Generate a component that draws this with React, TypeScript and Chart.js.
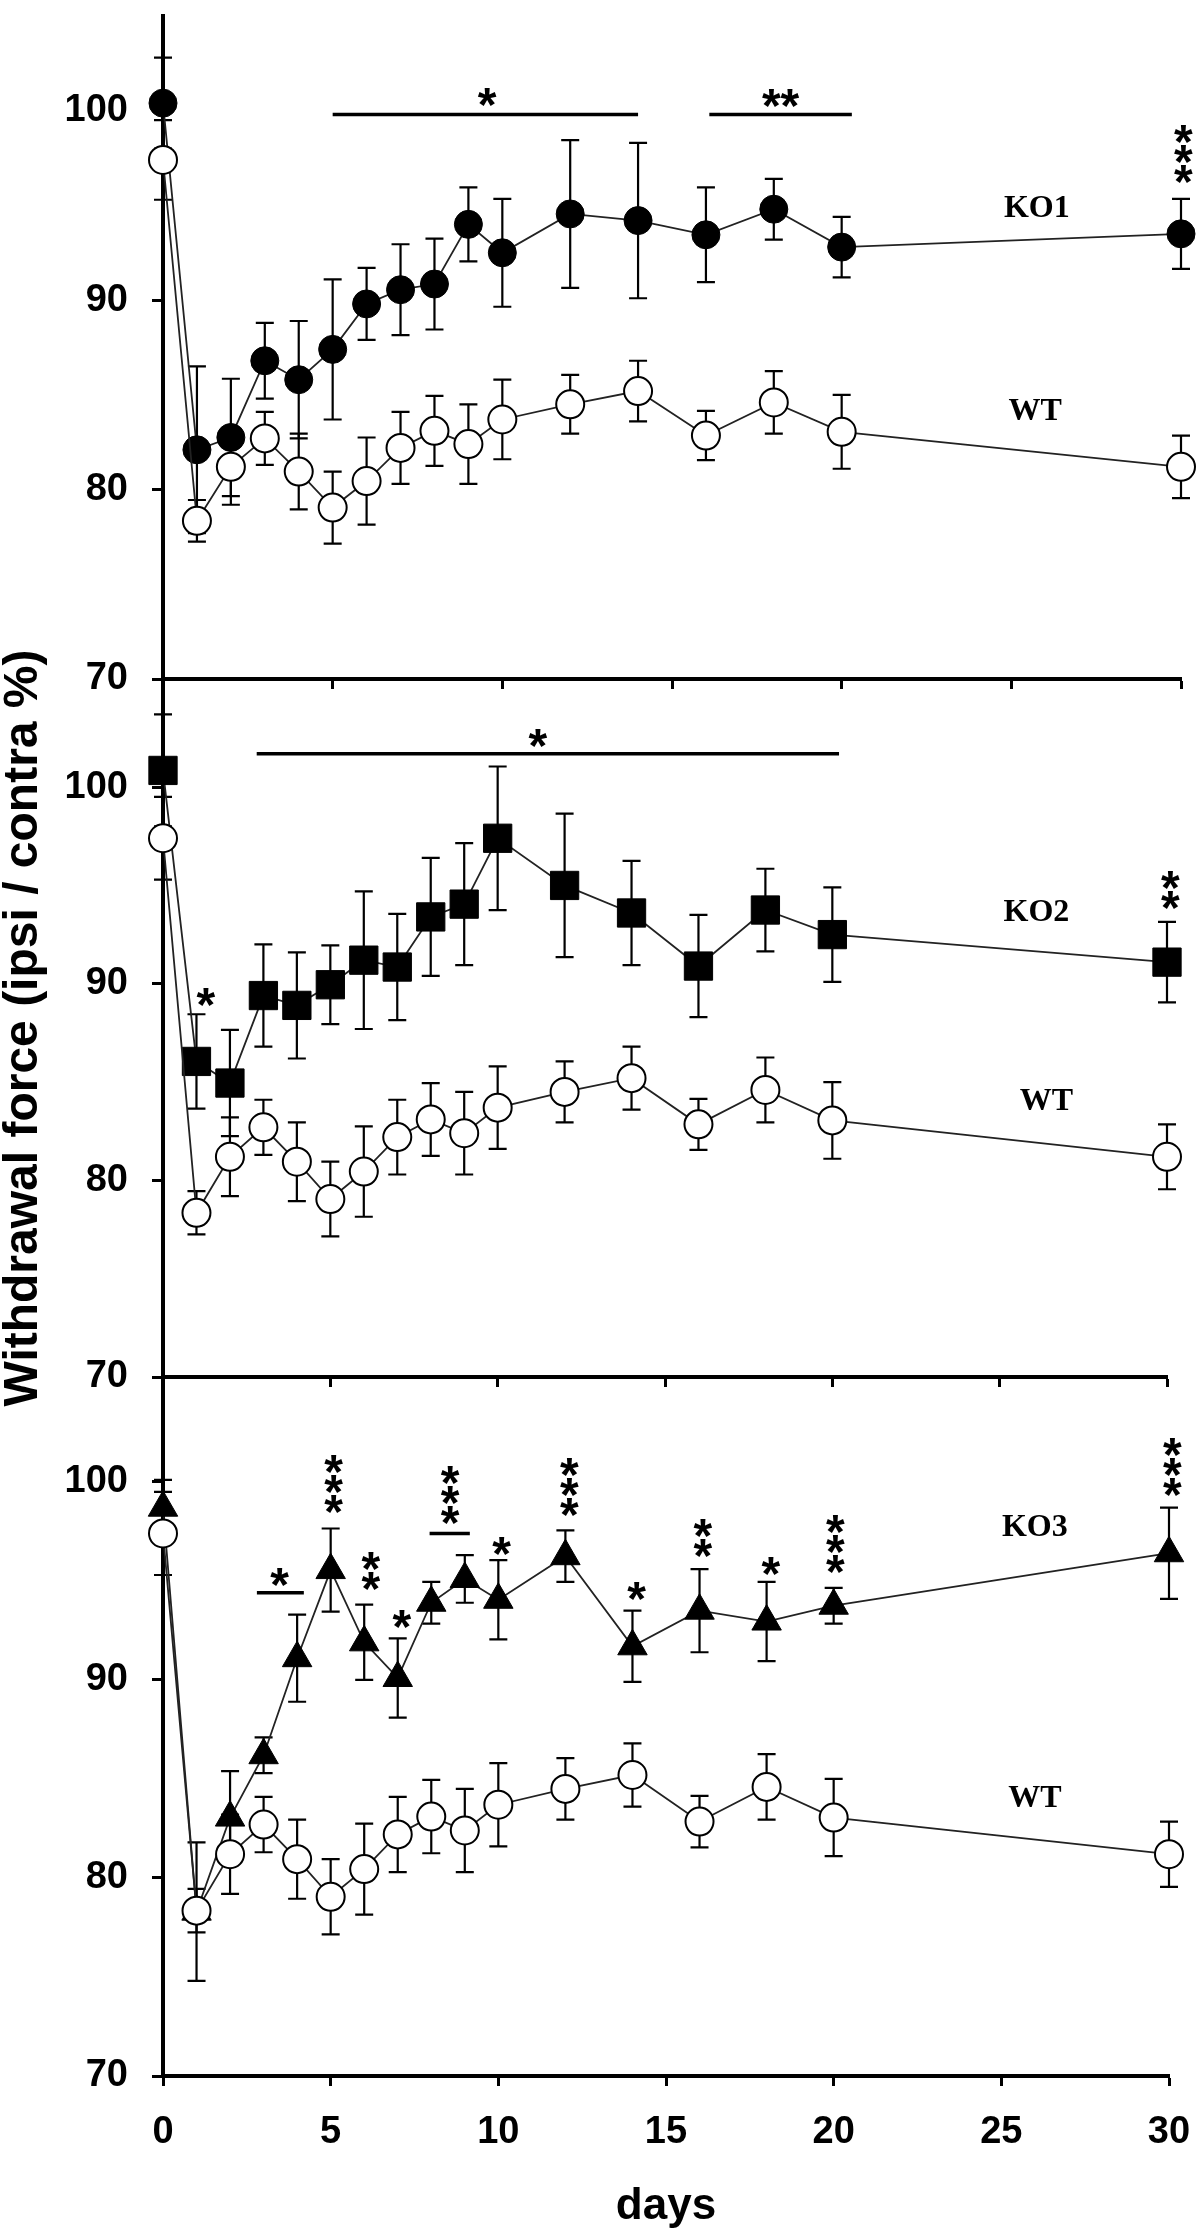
import React, { useEffect, useRef } from 'react';
import { Chart, registerables } from 'chart.js';

Chart.register(...registerables);

// ---------------- data ----------------
const DAYS = [0, 1, 2, 3, 4, 5, 6, 7, 8, 9, 10, 12, 14, 16, 18, 20, 30];

const WT_MEAN = [97.4, 78.35, 81.2, 82.7, 80.95, 79.05, 80.45, 82.2, 83.1, 82.4, 83.7, 84.5, 85.2, 82.85, 84.6, 83.05, 81.2];
const WT_SEM = [2.1, 1.1, 2.0, 1.4, 2.0, 1.9, 2.3, 1.9, 1.85, 2.1, 2.1, 1.55, 1.6, 1.3, 1.65, 1.95, 1.65];

const KO1_MEAN = [100.4, 82.1, 82.75, 86.8, 85.8, 87.4, 89.8, 90.55, 90.85, 94.0, 92.5, 94.55, 94.2, 93.45, 94.8, 92.8, 93.5];
const KO1_SEM = [2.4, 4.4, 3.1, 2.0, 3.1, 3.7, 1.9, 2.4, 2.4, 1.95, 2.85, 3.9, 4.1, 2.5, 1.6, 1.6, 1.85];

const KO2_MEAN = [100.85, 86.05, 84.95, 89.4, 88.9, 89.95, 91.2, 90.85, 93.4, 94.05, 97.4, 95.0, 93.6, 90.9, 93.75, 92.5, 91.1];
const KO2_SEM = [2.85, 2.4, 2.7, 2.6, 2.7, 2.0, 3.5, 2.7, 3.0, 3.1, 3.65, 3.65, 2.65, 2.6, 2.1, 2.4, 2.05];

const KO3_MEAN = [98.7, 78.3, 83.05, 86.2, 91.1, 95.55, 91.9, 90.1, 93.9, 95.1, 94.05, 96.25, 91.7, 93.5, 92.95, 93.75, 96.4];
const KO3_SEM = [1.4, 3.5, 2.35, 0.9, 2.2, 2.1, 1.9, 2.0, 1.05, 1.2, 2.0, 1.3, 1.8, 2.1, 2.0, 0.9, 2.3];

const Y_TICKS = [70, 80, 90, 100];
const X_TICKS = [0, 5, 10, 15, 20, 25, 30];

const Y_TITLE = 'Withdrawal force (ipsi / contra %)';
const X_TITLE = 'days';

// significance bars: [fromDay, toDay, value]
const KO1_BARS = [[5, 14, 99.8], [16.1, 20.3, 99.8]];
const KO2_BARS = [[2.8, 20.2, 101.7]];
const KO3_BARS = [[2.8, 4.2, 94.4], [7.95, 9.15, 97.4]];

// asterisk groups: [day, value, count, direction]
const KO1_STARS = [[9.55, 100.85, 1, 'h'], [18.2, 100.8, 2, 'h'], [30.07, 97.85, 3, 'v']];
const KO2_STARS = [[11.2, 102.6, 1, 'h'], [1.28, 89.45, 1, 'h'], [30.1, 94.9, 2, 'v']];
const KO3_STARS = [
  [3.48, 95.3, 1, 'h'], [5.09, 100.0, 3, 'v'], [6.2, 95.6, 2, 'v'], [7.12, 93.2, 1, 'h'],
  [8.56, 99.45, 3, 'v'], [10.1, 96.9, 1, 'h'], [12.12, 99.87, 3, 'v'], [14.12, 94.6, 1, 'h'],
  [16.1, 97.3, 2, 'v'], [18.13, 95.9, 1, 'h'], [20.05, 97.0, 3, 'v'], [30.1, 100.9, 3, 'v'],
];

// series name labels: [text, day, value]
const KO1_LABELS = [['KO1', 25.75, 94.8], ['WT', 25.7, 84.1]];
const KO2_LABELS = [['KO2', 26.1, 93.6], ['WT', 26.4, 84.0]];
const KO3_LABELS = [['KO3', 26.0, 97.7], ['WT', 26.0, 84.0]];

// ---------------- layout / style ----------------
const W = 1200;
const H = 2233;
const AXIS_LEFT = 163;
const SANS = '"Liberation Sans", Arial, Helvetica, sans-serif';
const SERIF = '"Liberation Serif", "Times New Roman", serif';

const PANELS = [
  { key: 'p1', name: 'KO1', mean: KO1_MEAN, sem: KO1_SEM, style: 'circle', radius: 14, yMax: 105, top: 4, bottom: 679, xEnd: 1181, last: false, yTitle: false, bars: KO1_BARS, stars: KO1_STARS, labels: KO1_LABELS },
  { key: 'p2', name: 'KO2', mean: KO2_MEAN, sem: KO2_SEM, style: 'rect', radius: 20, yMax: 105.5, top: 679, bottom: 1377, xEnd: 1167, last: false, yTitle: true, bars: KO2_BARS, stars: KO2_STARS, labels: KO2_LABELS },
  { key: 'p3', name: 'KO3', mean: KO3_MEAN, sem: KO3_SEM, style: 'triangle', radius: 17, yMax: 105.3, top: 1377, bottom: 2076, xEnd: 1169, last: true, yTitle: false, bars: KO3_BARS, stars: KO3_STARS, labels: KO3_LABELS },
];

function makeConfig(p: any) {
  const xAxisH = p.last ? H - p.bottom : 20;
  const errorBars = {
    id: 'errorBars_' + p.key,
    beforeDatasetsDraw(chart: any) {
      const { ctx } = chart;
      const xs = chart.scales.x;
      const ys = chart.scales.y;
      const sets = [[WT_MEAN, WT_SEM], [p.mean, p.sem]];
      ctx.save();
      ctx.strokeStyle = '#000';
      ctx.lineWidth = 2.2;
      ctx.lineCap = 'butt';
      sets.forEach(([m, s]: any) => {
        DAYS.forEach((d, j) => {
          const px = xs.getPixelForValue(d);
          const yt = ys.getPixelForValue(m[j] + s[j]);
          const yb = ys.getPixelForValue(m[j] - s[j]);
          ctx.beginPath();
          ctx.moveTo(px, yt);
          ctx.lineTo(px, yb);
          ctx.moveTo(px - 9, yt);
          ctx.lineTo(px + 9, yt);
          ctx.moveTo(px - 9, yb);
          ctx.lineTo(px + 9, yb);
          ctx.stroke();
        });
      });
      ctx.restore();
    },
  };
  const annotations = {
    id: 'annot_' + p.key,
    afterDatasetsDraw(chart: any) {
      const { ctx } = chart;
      const xs = chart.scales.x;
      const ys = chart.scales.y;
      ctx.save();
      ctx.strokeStyle = '#000';
      ctx.fillStyle = '#000';
      ctx.lineWidth = 3.5;
      p.bars.forEach(([a, b, v]: any) => {
        const y = ys.getPixelForValue(v);
        ctx.beginPath();
        ctx.moveTo(xs.getPixelForValue(a), y);
        ctx.lineTo(xs.getPixelForValue(b), y);
        ctx.stroke();
      });
      const sz = 48;
      ctx.font = `bold ${sz}px ${SANS}`;
      ctx.textAlign = 'center';
      ctx.textBaseline = 'alphabetic';
      const off = 0.55 * sz;
      p.stars.forEach(([d, v, n, dir]: any) => {
        const cx = xs.getPixelForValue(d);
        const cy = ys.getPixelForValue(v);
        if (dir === 'h') {
          ctx.fillText('*'.repeat(n), cx, cy + off);
        } else {
          const gap = 20;
          for (let k = 0; k < n; k++) {
            const yy = cy + (k - (n - 1) / 2) * gap;
            ctx.fillText('*', cx, yy + off);
          }
        }
      });
      ctx.font = `bold 32px ${SERIF}`;
      ctx.textBaseline = 'middle';
      p.labels.forEach(([t, d, v]: any) => {
        ctx.fillText(t, xs.getPixelForValue(d), ys.getPixelForValue(v));
      });
      ctx.restore();
    },
  };

  const toPts = (m: number[]) => DAYS.map((d, i) => ({ x: d, y: m[i] }));

  return {
    type: 'line',
    data: {
      datasets: [
        {
          label: 'WT',
          data: toPts(WT_MEAN),
          borderColor: '#222',
          borderWidth: 1.8,
          pointStyle: 'circle',
          pointRadius: 14,
          pointBackgroundColor: '#fff',
          pointBorderColor: '#000',
          pointBorderWidth: 2,
          clip: false,
          tension: 0,
        },
        {
          label: p.name,
          data: toPts(p.mean),
          borderColor: '#222',
          borderWidth: 1.8,
          pointStyle: p.style,
          pointRadius: p.radius,
          pointBackgroundColor: '#000',
          pointBorderColor: '#000',
          pointBorderWidth: 1,
          clip: false,
          tension: 0,
        },
      ],
    },
    options: {
      responsive: false,
      animation: false,
      events: [],
      layout: {
        padding: { left: 0, right: W - p.xEnd, top: p.top, bottom: H - p.bottom - xAxisH },
      },
      plugins: {
        legend: { display: false },
        tooltip: { enabled: false },
      },
      scales: {
        x: {
          type: 'linear',
          min: 0,
          max: 30,
          afterBuildTicks: (s: any) => {
            s.ticks = X_TICKS.map((v) => ({ value: v }));
          },
          afterFit: (s: any) => {
            s.height = xAxisH;
            s.paddingLeft = 0;
            s.paddingRight = 0;
            s.paddingTop = 0;
            s.paddingBottom = 0;
          },
          border: { display: true, color: '#000', width: 4 },
          grid: { display: true, drawOnChartArea: false, drawTicks: true, tickLength: 10, tickWidth: 3, tickColor: '#000' },
          ticks: {
            display: p.last,
            padding: 24,
            color: '#000',
            maxRotation: 0,
            font: { family: SANS, weight: 'bold', size: 38 },
          },
          title: {
            display: p.last,
            text: X_TITLE,
            color: '#000',
            font: { family: SANS, weight: 'bold', size: 44 },
            padding: { top: 0, bottom: 0 },
          },
        },
        y: {
          type: 'linear',
          min: 70,
          max: p.yMax,
          afterBuildTicks: (s: any) => {
            s.ticks = Y_TICKS.map((v) => ({ value: v }));
          },
          afterFit: (s: any) => {
            s.width = AXIS_LEFT;
            s.paddingTop = 0;
            s.paddingBottom = 0;
            s.paddingLeft = 0;
            s.paddingRight = 0;
          },
          border: { display: true, color: '#000', width: 4 },
          grid: { display: true, drawOnChartArea: false, drawTicks: true, tickLength: 11, tickWidth: 3, tickColor: '#000' },
          ticks: {
            padding: 24,
            color: '#000',
            font: { family: SANS, weight: 'bold', size: 38 },
          },
          title: {
            display: p.yTitle,
            text: Y_TITLE,
            color: '#000',
            font: { family: SANS, weight: 'bold', size: 48, lineHeight: 1 },
            padding: { top: 0, bottom: 0 },
          },
        },
      },
    },
    plugins: [errorBars, annotations],
  };
}

export default function App() {
  const refs = useRef<(HTMLCanvasElement | null)[]>([]);

  useEffect(() => {
    const charts: Chart[] = [];
    PANELS.forEach((p, i) => {
      const el = refs.current[i];
      if (el) charts.push(new Chart(el, makeConfig(p) as any));
    });
    return () => {
      charts.forEach((c) => c.destroy());
    };
  }, []);

  return (
    <div style={{ position: 'absolute', left: 0, top: 0, width: W, height: H, background: '#fff' }}>
      {PANELS.map((p, i) => (
        <canvas
          key={p.key}
          ref={(el) => {
            refs.current[i] = el;
          }}
          width={W}
          height={H}
          style={{ position: 'absolute', left: 0, top: 0, width: W, height: H }}
        />
      ))}
    </div>
  );
}
